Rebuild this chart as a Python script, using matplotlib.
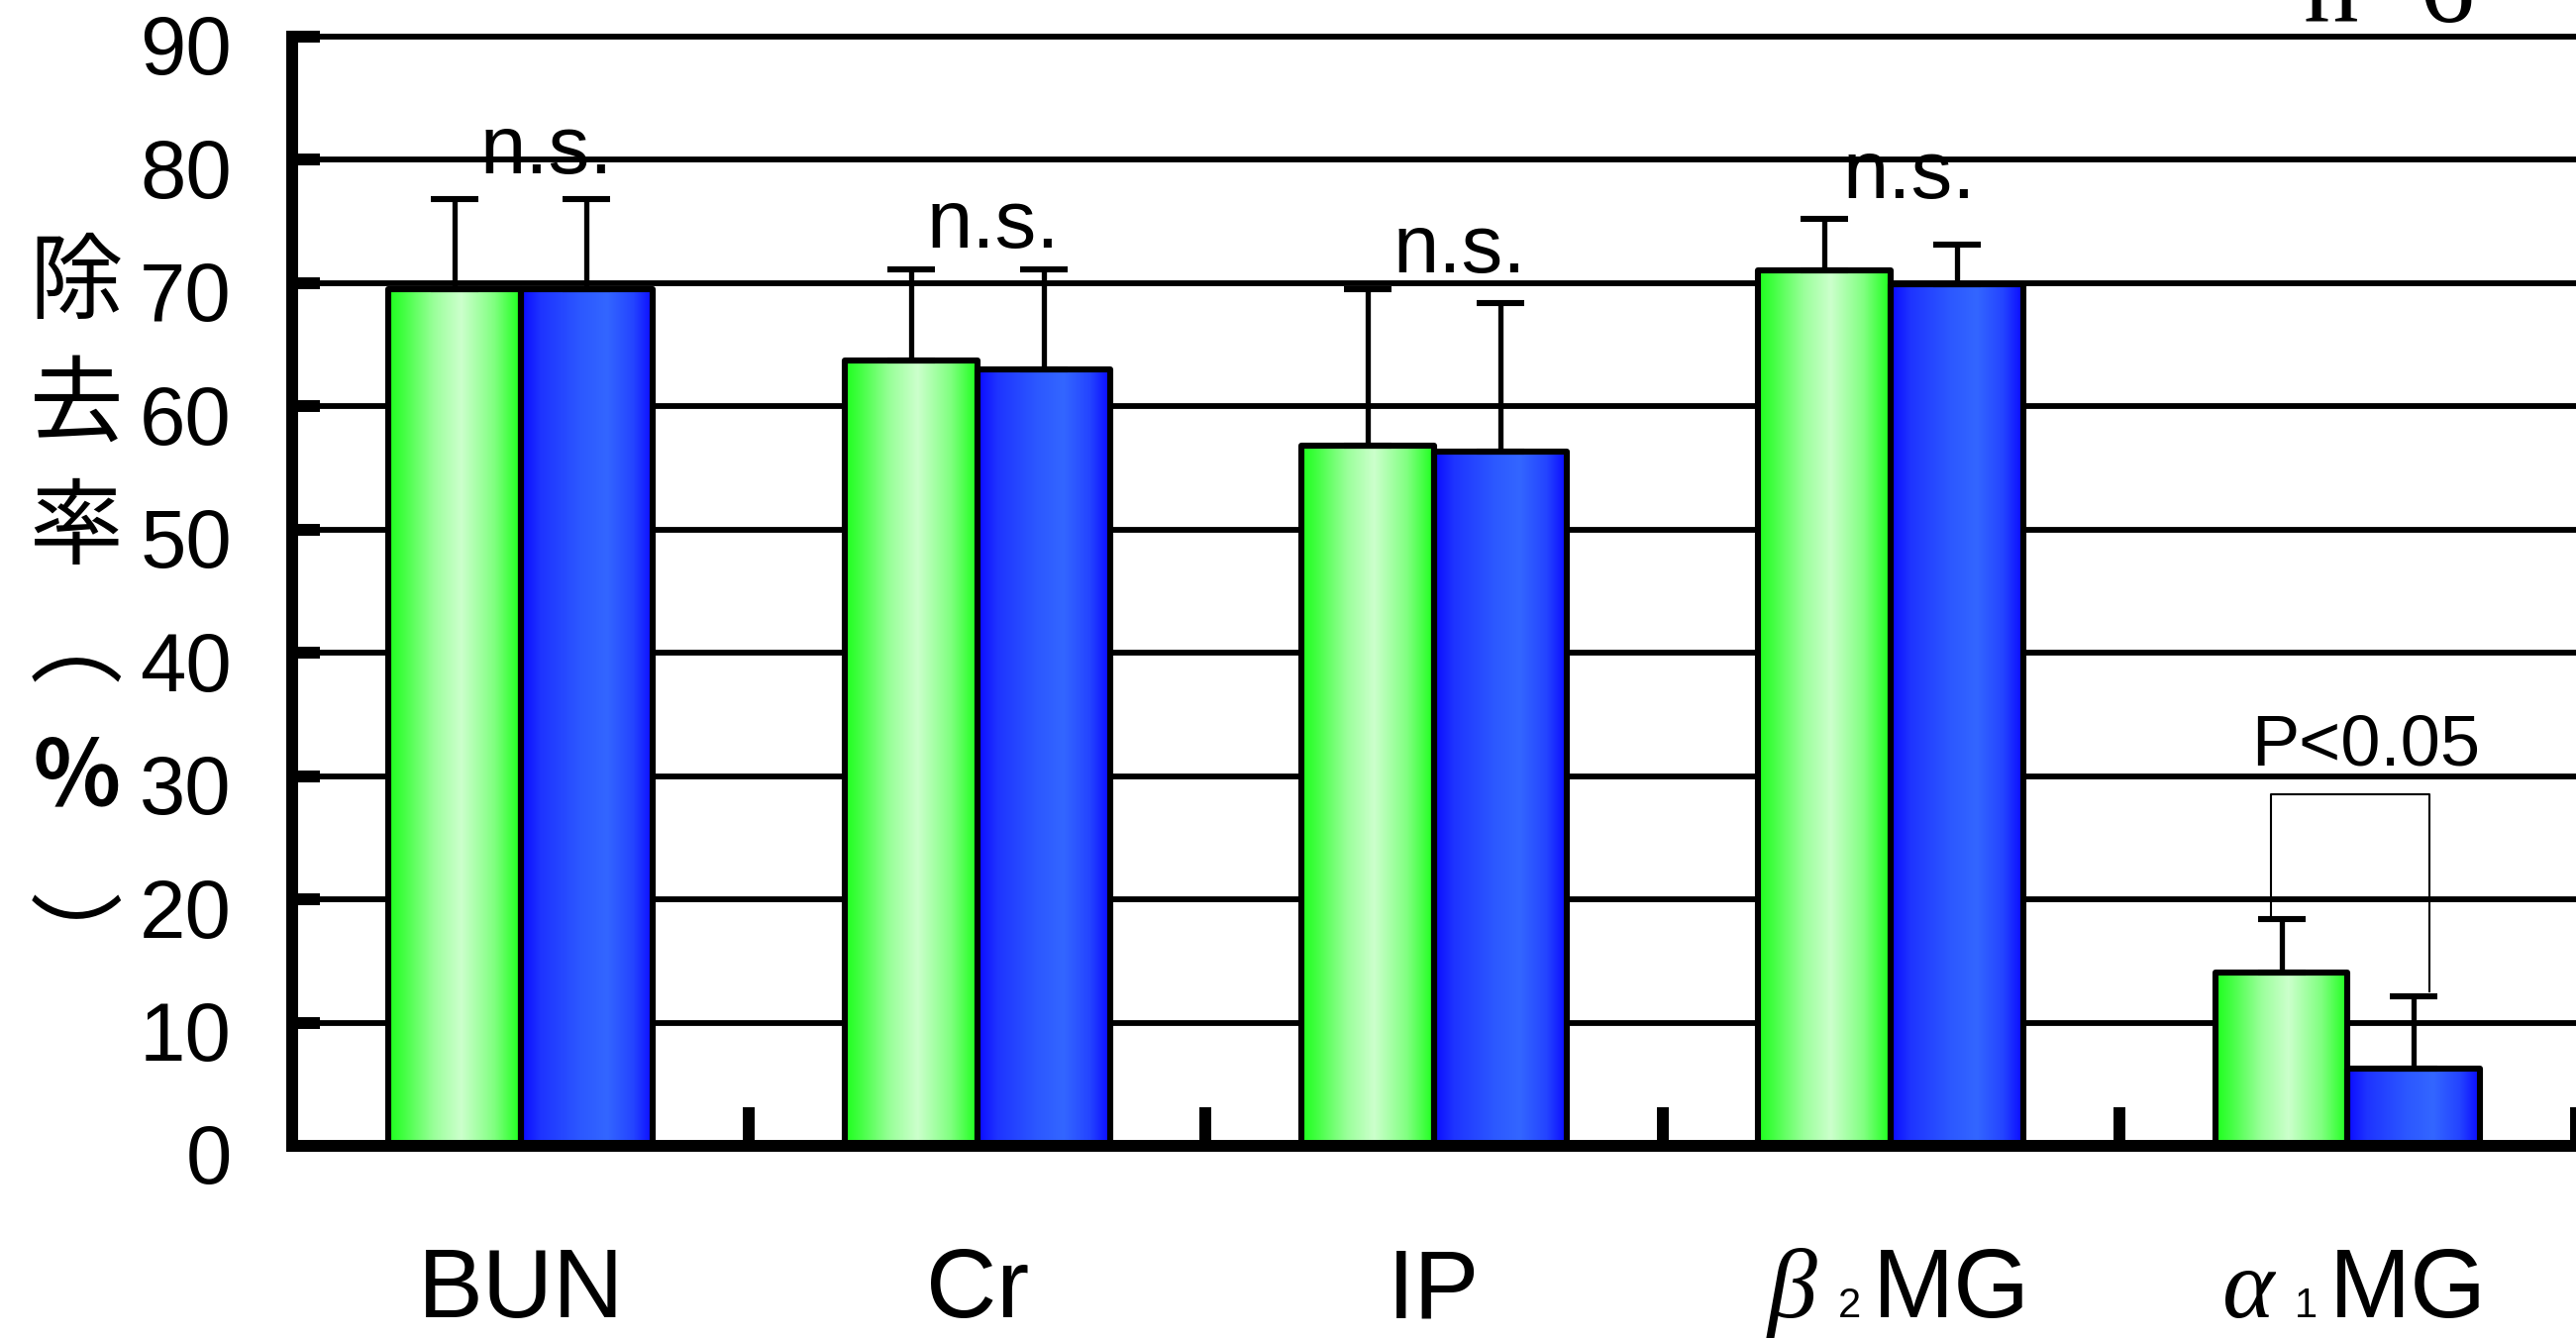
import numpy as np
import matplotlib
matplotlib.use('Agg')
import matplotlib.pyplot as plt
from matplotlib.colors import LinearSegmentedColormap
from matplotlib.transforms import blended_transform_factory, ScaledTranslation

# removal rate (%) per solute, two groups, mean and upper SD
categories = ['BUN', 'Cr', 'IP', 'β2MG', 'α1MG']
green_mean = [69.5, 63.7, 56.8, 71.0, 14.1]
green_sd = [7.35, 7.4, 12.7, 4.2, 4.3]
blue_mean = [69.5, 63.0, 56.3, 69.9, 6.3]
blue_sd = [7.35, 8.1, 12.1, 3.2, 5.8]

sig_labels = ['n.s.', 'n.s.', 'n.s.', 'n.s.', 'P<0.05']
sig_y = [78.9, 72.9, 70.9, 76.9, 30.9]
sig_dx = [0.057, 0.034, 0.056, 0.040, 0.040]

yticks = list(range(0, 100, 10))

plt.rcParams['font.family'] = ['Liberation Sans', 'DejaVu Sans']

fig = plt.figure(figsize=(26.01, 13.51), dpi=100)
ax = fig.add_axes([295 / 2601, 194 / 1351, 2306 / 2601, 1120 / 1351])

green_cmap = LinearSegmentedColormap.from_list('green', [
    (0.0, '#1cff1c'), (0.12, '#44ff44'), (0.35, '#9cff9c'),
    (0.55, '#ccffcc'), (0.8, '#80ff80'), (1.0, '#1cff1c')])
blue_cmap = LinearSegmentedColormap.from_list('blue', [
    (0.0, '#0a0aff'), (0.15, '#1e34ff'), (0.45, '#2c58ff'),
    (0.65, '#3366ff'), (0.85, '#2444ff'), (1.0, '#0a0aff')])

x = np.arange(len(categories)) + 0.5
w = 0.29

ax.set_axisbelow(True)
ax.yaxis.grid(True, color='black', lw=4.2)

grad = np.linspace(0, 1, 256).reshape(1, -1)
for vals, sd, off, cmap in [(green_mean, green_sd, -w / 2, green_cmap),
                            (blue_mean, blue_sd, w / 2, blue_cmap)]:
    bars = ax.bar(x + off, vals, w, facecolor='none', edgecolor='black',
                  lw=4.4, joinstyle='round', zorder=3)
    for b in bars:
        x0, y0 = b.get_xy()
        im = ax.imshow(grad, cmap=cmap, aspect='auto', zorder=2,
                       extent=[x0, x0 + b.get_width(), y0, y0 + b.get_height()])
        im.set_clip_path(b)
    ax.errorbar(x + off, vals, yerr=[np.zeros(len(vals)), sd], fmt='none',
                ecolor='black', elinewidth=3.8, capsize=17, capthick=4.4,
                zorder=2.5)

ax.set_xlim(0, len(categories))
ax.set_ylim(0, 90)

for s in ['top', 'right']:
    ax.spines[s].set_visible(False)
for s in ['left', 'bottom']:
    ax.spines[s].set_linewidth(8.6)

ax.set_yticks(yticks)
ax.tick_params(axis='y', direction='in', length=20, width=8.6, pad=44,
               labelsize=60)
for line in ax.get_ygridlines():
    line.set_clip_on(False)
for lab in ax.get_yticklabels():
    lab.set_transform(lab.get_transform()
                      + ScaledTranslation(0, -8 / 100, fig.dpi_scale_trans))

ax.set_xticks(np.arange(1, len(categories) + 1))
ax.tick_params(axis='x', direction='in', length=28, width=8.6,
               labelbottom=False)

# category names below the axis
trans = blended_transform_factory(ax.transData, ax.transAxes)
label_y = -0.1545
for xi, name in zip(x, categories):
    if name[0] in 'αβ':
        ax.annotate(name[0], (xi, label_y), xycoords=trans,
                    xytext=(-54, 0), textcoords='offset points',
                    ha='right', va='baseline', fontsize=72,
                    family='Liberation Serif', style='italic')
        ax.annotate(name[1], (xi, label_y), xycoords=trans,
                    xytext=(-30, 0), textcoords='offset points',
                    ha='center', va='baseline', fontsize=30)
        ax.annotate(name[2:], (xi, label_y), xycoords=trans,
                    xytext=(-13, 0), textcoords='offset points',
                    ha='left', va='baseline', fontsize=71)
    else:
        ax.text(xi, label_y, name, transform=trans, ha='center',
                va='baseline', fontsize=71)

# significance marks
for xi, lab, yy, dx in zip(x, sig_labels, sig_y, sig_dx):
    fs = 52 if lab.startswith('P') else 60
    ax.text(xi + dx, yy, lab, ha='center', va='baseline', fontsize=fs,
            zorder=4)

# bracket over the alpha1MG pair
i = len(categories) - 1
bx0, bx1 = x[i] - w / 2 - 0.022, x[i] + w / 2 + 0.034
top = 28.5
ax.plot([bx0, bx0, bx1, bx1],
        [green_mean[i] + green_sd[i] + 0.25, top, top,
         blue_mean[i] + blue_sd[i] + 0.4],
        color='black', lw=1.5, zorder=4)

# vertical y-axis title (vertical-form brackets)
cjk = ['Noto Sans CJK JP', 'DejaVu Sans']
ylab_chars = ['除', '去', '率', '︵', '％', '︶']
ylab_pos = [287, 411, 535, 655, 786, 955]
for ch, yp in zip(ylab_chars, ylab_pos):
    fig.text(77 / 2601, 1 - yp / 1351, ch, ha='center', va='center',
             fontsize=66 if ch == '％' else 68, family=cjk,
             fontweight='bold' if ch == '％' else 'normal')

fig.text(2325 / 2601, 1 - 22 / 1351, 'n=6', family='Liberation Serif',
         fontsize=80, ha='left', va='baseline')

fig.savefig('out.png', dpi=100)
